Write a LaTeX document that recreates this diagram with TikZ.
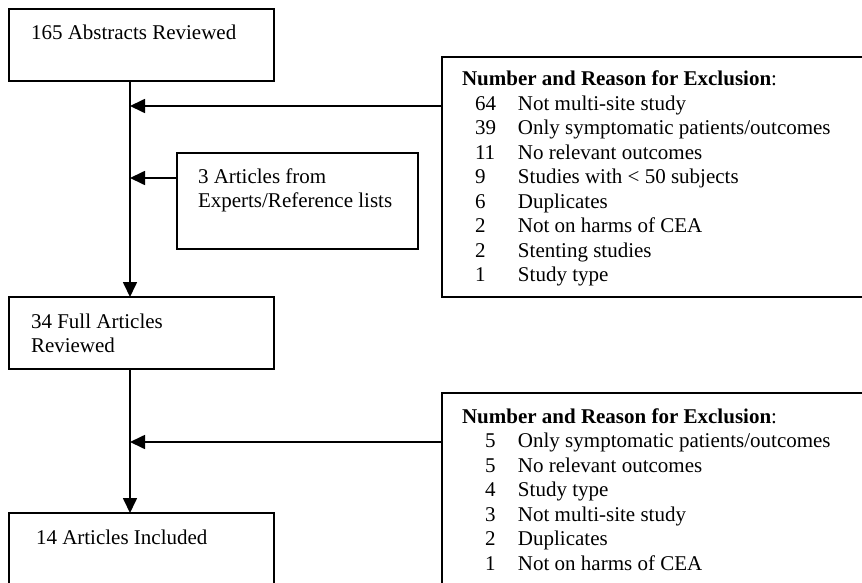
\documentclass[tikz,border=0pt]{standalone}
\usepackage{fontspec}
\setmainfont{Liberation Serif}
\usetikzlibrary{arrows.meta}
\begin{document}
\begin{tikzpicture}[x=1pt,y=-1pt,
  box/.style={draw,line width=1.7pt,rectangle,inner sep=0pt,outer sep=0pt,anchor=north west},
  txt/.style={anchor=base west,inner sep=0pt,outer sep=0pt,font=\fontsize{21}{24.5}\selectfont},
  arr/.style={line width=1.7pt,-{Triangle[length=15pt,width=14pt]}},
  ln/.style={line width=1.7pt}]
\useasboundingbox (0,0) rectangle (862,583);
\clip (0,0) rectangle (862,583);
% boxes
\node[box,minimum width=265pt,minimum height=72pt] (b1) at (9,9) {};
\node[box,minimum width=241pt,minimum height=96pt] (b3a) at (177,153) {};
\node[box,minimum width=265pt,minimum height=72pt] (b2) at (9,297) {};
\node[box,minimum width=265pt,minimum height=110pt] (b3) at (9,513) {};
\node[box,minimum width=440pt,minimum height=240pt] (e1) at (442,57) {};
\node[box,minimum width=440pt,minimum height=230pt] (e2) at (442,393) {};
% texts
\node[txt] (t1) at (31,40) {165 Abstracts Reviewed};
\node[txt] (t3a) at (198,183) {\begin{tabular}[t]{@{}l@{}}3 Articles from\\Experts/Reference lists\end{tabular}};
\node[txt] (t2) at (31,328) {\begin{tabular}[t]{@{}l@{}}34 Full Articles\\Reviewed\end{tabular}};
\node[txt] (t3) at (36,544) {14 Articles Included};
\node[txt] (te1) at (462,86) {\begin{tabular}[t]{@{}l@{}}
\textbf{Number and Reason for Exclusion}:\\
\hspace*{13pt}\makebox[43pt][l]{64}Not multi-site study\\
\hspace*{13pt}\makebox[43pt][l]{39}Only symptomatic patients/outcomes\\
\hspace*{13pt}\makebox[43pt][l]{11}No relevant outcomes\\
\hspace*{13pt}\makebox[43pt][l]{9}Studies with < 50 subjects\\
\hspace*{13pt}\makebox[43pt][l]{6}Duplicates\\
\hspace*{13pt}\makebox[43pt][l]{2}Not on harms of CEA\\
\hspace*{13pt}\makebox[43pt][l]{2}Stenting studies\\
\hspace*{13pt}\makebox[43pt][l]{1}Study type
\end{tabular}};
\node[txt] (te2) at (462,423) {\begin{tabular}[t]{@{}l@{}}
\textbf{Number and Reason for Exclusion}:\\
\hspace*{23pt}\makebox[33pt][l]{5}Only symptomatic patients/outcomes\\
\hspace*{23pt}\makebox[33pt][l]{5}No relevant outcomes\\
\hspace*{23pt}\makebox[33pt][l]{4}Study type\\
\hspace*{23pt}\makebox[33pt][l]{3}Not multi-site study\\
\hspace*{23pt}\makebox[33pt][l]{2}Duplicates\\
\hspace*{23pt}\makebox[33pt][l]{1}Not on harms of CEA
\end{tabular}};
% junctions on the main line
\coordinate (j1) at (130,106);
\coordinate (j2) at (130,178);
\coordinate (j3) at (130,442);
% connectors
\draw[arr] (j1 |- b1.south) -- (j1 |- b2.north);
\draw[arr] (j3 |- b2.south) -- (j3 |- b3.north);
\draw[arr] (j1 -| e1.west) -- (j1);
\draw[arr] (j2 -| b3a.west) -- (j2);
\draw[arr] (j3 -| e2.west) -- (j3);
\end{tikzpicture}
\end{document}
